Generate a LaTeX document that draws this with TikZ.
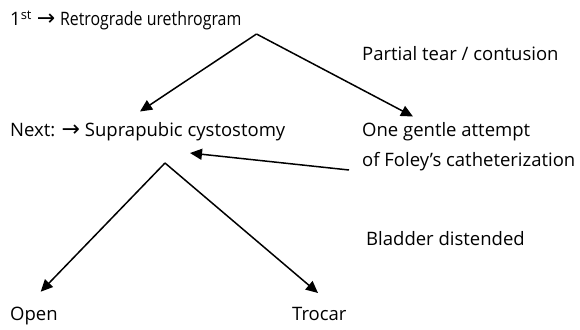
\documentclass[tikz,border=0pt]{standalone}
\usepackage{fontspec}
\setmainfont{Open Sans}
\newfontfamily\symfont{DejaVu Sans}
\newcommand{\rarr}{{\symfont\fontsize{22}{22}\selectfont →}}
\usetikzlibrary{arrows.meta}
\begin{document}
\begin{tikzpicture}[x=1pt,y=-1pt,
  lbl/.style={anchor=base west, inner sep=0pt, font=\fontsize{18.5}{21}\selectfont},
  link/.style={line width=1.5pt, -{Triangle[length=12pt,width=11pt]}}]
\useasboundingbox (0,0) rectangle (580,329);

% labels
\node[lbl] (rug) at (10,26) {1\textsuperscript{st} \rarr{} \scalebox{0.86}[1]{Retrograde urethrogram}};
\node[lbl] (tear) at (362,60) {Partial tear / contusion};
\node[lbl] (spc) at (10,136) {Next: \rarr{} Suprapubic cystostomy};
\node[lbl] (foley1) at (362,136) {One gentle attempt};
\node[lbl] (foley2) at (362,166) {of Foley’s catheterization};
\node[lbl] (bladder) at (366,245) {Bladder distended};
\node[lbl] (open) at (10,320) {Open};
\node[lbl] (trocar) at (292,320) {Trocar};

% branch points and arrow ends
\coordinate (forkTop) at (256.5,34);
\coordinate (toSpc) at (140,111.5);
\coordinate (toFoley) at (413,116.5);
\coordinate (fromFoley) at (349,170);
\coordinate (intoSpc) at (190,153);
\coordinate (forkLow) at (165,163);
\coordinate (toOpen) at (40.7,291.7);
\coordinate (toTrocar) at (318,293);

% connectors
\draw[link] (forkTop) -- (toSpc);
\draw[link] (forkTop) -- (toFoley);
\draw[link] (fromFoley) -- (intoSpc);
\draw[link] (forkLow) -- (toOpen);
\draw[link] (forkLow) -- (toTrocar);
\end{tikzpicture}
\end{document}
